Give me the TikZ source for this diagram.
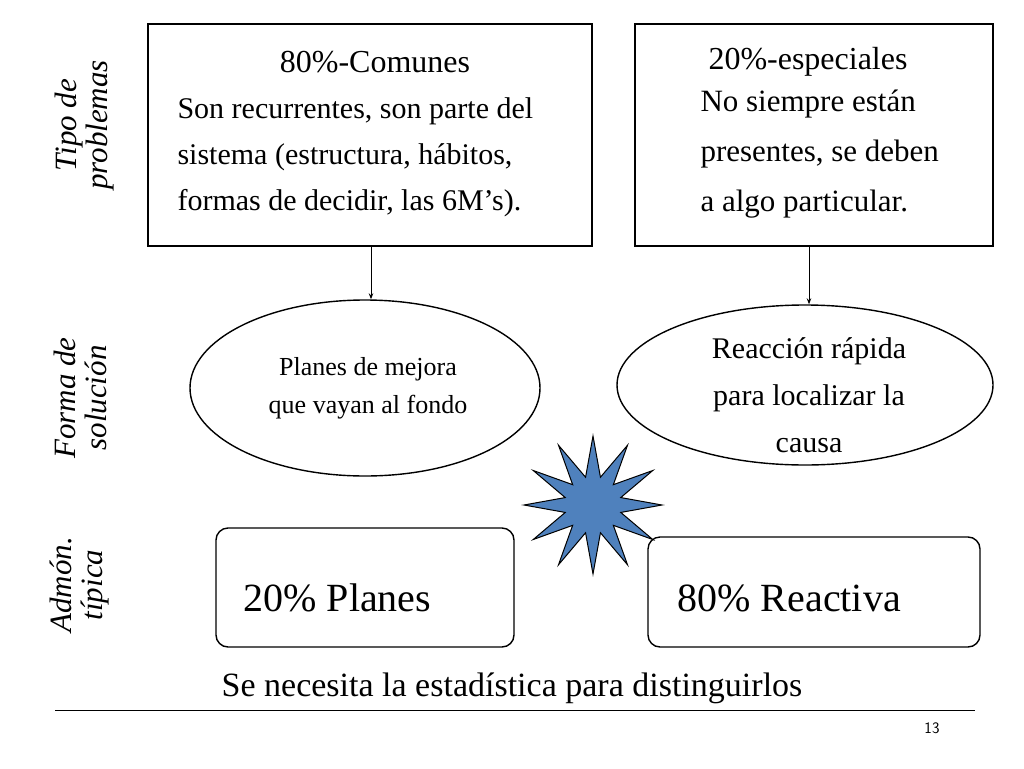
\documentclass[tikz,border=0pt]{standalone}
\usepackage{fontspec}
\setmainfont{Liberation Serif}
\usetikzlibrary{shapes.geometric,arrows.meta}
\begin{document}
\begin{tikzpicture}[x=1pt,y=-1pt,
  box/.style={draw,line width=1.6pt},
  ell/.style={draw,ellipse,line width=1.4pt},
  rbox/.style={draw,rounded corners=12pt,line width=1.4pt},
  side/.style={rotate=90,font=\itshape\fontsize{31}{31}\selectfont,align=center},
  arr/.style={-{Stealth[length=6pt]},line width=1pt}]
\useasboundingbox (0,0) rectangle (1024,768);
\node[box,minimum width=444pt,minimum height=222pt] (b1) at (370,135) {};
\node[box,minimum width=358pt,minimum height=222pt] (b2) at (814,135) {};
\node[font=\fontsize{32}{32}\selectfont] (t1) at (375,62) {80\%-Comunes};
\node[font=\fontsize{30}{46}\selectfont,align=left,anchor=north west] (x1) at (174,94) {Son recurrentes, son parte del\\sistema (estructura, hábitos,\\formas de decidir, las 6M’s).};
\node[font=\fontsize{32}{32}\selectfont] (t2) at (808,62) {20\%-especiales};
\node[font=\fontsize{31}{50}\selectfont,align=left,anchor=north west] (x2) at (697,86) {No siempre están\\presentes, se deben\\a algo particular.};
\node[ell,minimum width=350pt,minimum height=176pt] (e1) at (365,388) {};
\node[font=\fontsize{26}{38}\selectfont,align=center] at (368,388) {Planes de mejora\\que vayan al fondo};
\node[ell,minimum width=376pt,minimum height=160pt] (e2) at (805,385) {};
\node[font=\fontsize{30}{47}\selectfont,align=center] at (809,395) {Reacción rápida\\para localizar la\\causa};
\draw[arr] (b1.south -| 371,0) -- (e1.north -| 371,0);
\draw[arr] (b2.south -| 809,0) -- (e2.north -| 809,0);
\node[star,star points=12,star point ratio=2.4,minimum size=138pt,draw,fill={rgb,255:red,79;green,129;blue,189},line width=1pt] (st) at (593,505) {};
\node[rbox,minimum width=298pt,minimum height=119pt] (r1) at (365,587.5) {};
\node[font=\fontsize{40}{40}\selectfont,anchor=west] at (240,598) {20\% Planes};
\node[rbox,minimum width=332pt,minimum height=110pt] (r2) at (814,592) {};
\node[font=\fontsize{40}{40}\selectfont,anchor=west] at (674,598) {80\% Reactiva};
\node[side] at (85,125) {Tipo de\\problemas};
\node[side] at (80,398) {Forma de\\solución};
\node[side] at (80,585) {Admón.\\típica};
\node[font=\fontsize{34}{34}\selectfont] (bt) at (512,688) {Se necesita la estadística para distinguirlos};
\coordinate (l1) at (55,710); \coordinate (l2) at (975,710);
\draw[line width=0.8pt] (l1) -- (l2);
\node[font=\sffamily\fontsize{16}{16}\selectfont] (pg) at (932,728) {13};
\end{tikzpicture}
\end{document}
